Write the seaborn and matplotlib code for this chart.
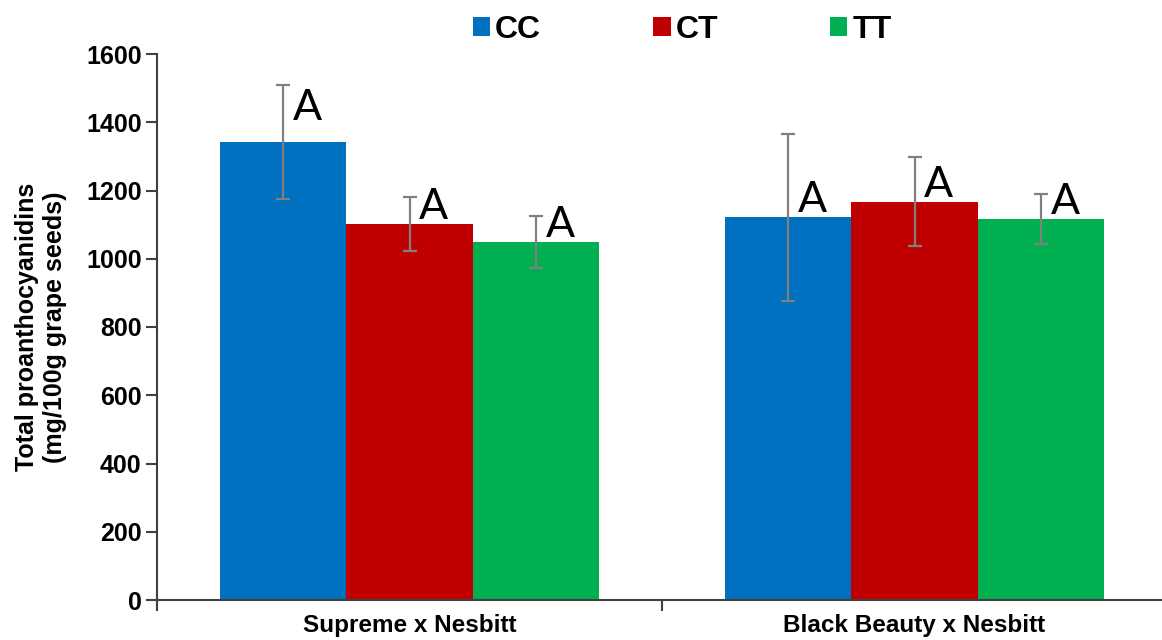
import matplotlib
matplotlib.use("Agg")
import matplotlib.pyplot as plt
from matplotlib.patches import Patch
import seaborn as sns
import pandas as pd
import numpy as np

crosses = ["Supreme x Nesbitt", "Black Beauty x Nesbitt"]
genotypes = ["CC", "CT", "TT"]
cc_values = [1342, 1122]
ct_values = [1102, 1167]
tt_values = [1049, 1117]
cc_err = [168, 245]
ct_err = [78, 130]
tt_err = [75, 73]
letters_cc = ["A", "A"]
letters_ct = ["A", "A"]
letters_tt = ["A", "A"]
colors = ["#0070C0", "#C00000", "#00B050"]
yticks = [0, 200, 400, 600, 800, 1000, 1200, 1400, 1600]

sns.set_style("white")
plt.rcParams["font.family"] = ["Liberation Sans", "DejaVu Sans"]
plt.rcParams["text.color"] = "black"
plt.rcParams["axes.labelcolor"] = "black"
plt.rcParams["xtick.labelcolor"] = "black"
plt.rcParams["ytick.labelcolor"] = "black"

rows = []
for g, vals, errs, lets in zip(genotypes, [cc_values, ct_values, tt_values],
                               [cc_err, ct_err, tt_err], [letters_cc, letters_ct, letters_tt]):
    for c, v, e, l in zip(crosses, vals, errs, lets):
        rows.append({"cross": c, "genotype": g, "value": v, "err": e, "letter": l})
df = pd.DataFrame(rows)

fig = plt.figure(figsize=(11.62, 6.40), dpi=100)
ax = fig.add_axes([157 / 1162, 1 - 600 / 640, 1010 / 1162, 546 / 640])

sns.barplot(data=df, x="cross", y="value", hue="genotype", order=crosses,
            hue_order=genotypes, palette=colors, width=0.75, gap=0,
            saturation=1, errorbar=None, legend=False, ax=ax, linewidth=0)

for cont, g in zip(ax.containers, genotypes):
    sub = df[df.genotype == g].set_index("cross").loc[crosses]
    xs = [b.get_x() + b.get_width() / 2 for b in cont]
    ax.errorbar(xs, sub["value"], yerr=sub["err"], fmt="none", ecolor="#808080",
                elinewidth=1.6, capsize=5, capthick=1.6, zorder=5)
    for x, v, e, l, c in zip(xs, sub["value"], sub["err"], sub["letter"], crosses):
        if g == "CC" and c == crosses[0]:
            ybase = v + 65
        else:
            ybase = v + 15
        ax.annotate(l, xy=(x, ybase), xytext=(7, 0), textcoords="offset points",
                    ha="left", va="baseline", fontsize=31, family=["Lato", "DejaVu Sans"],
                    color="black", zorder=6)

ax.set_ylim(0, 1600)
ax.set_xlim(-0.5, 1.5)
ax.set_yticks(yticks)
ax.set_yticklabels([str(t) for t in yticks], fontsize=18, fontweight="bold")
ax.set_xticks([-0.5, 0.5, 1.5])
ax.set_xticks([0, 1], minor=True)
ax.set_xticklabels(["", "", ""])
ax.set_xticklabels(crosses, minor=True, fontsize=17.5, fontweight="bold")
ax.tick_params(axis="x", which="minor", bottom=False, length=0, pad=10)
ax.tick_params(axis="x", which="major", bottom=True, direction="out", length=8,
               width=1.5, color="#404040")
ax.tick_params(axis="y", left=True, direction="out", length=8, width=1.5,
               color="#404040", pad=3)
ax.set_xlabel("")
ax.set_ylabel("Total proanthocyanidins\n(mg/100g grape seeds)", fontsize=18,
              fontweight="bold", labelpad=14, linespacing=1.2, color="black")
for s in ["top", "right"]:
    ax.spines[s].set_visible(False)
for s in ["left", "bottom"]:
    ax.spines[s].set_color("#404040")
    ax.spines[s].set_linewidth(1.5)

handles = [Patch(facecolor=c, edgecolor="none") for c in colors]
leg = fig.legend(handles, genotypes, loc="center", bbox_to_anchor=(0.587, 0.953), ncol=3,
                 frameon=False, prop={"weight": "bold", "size": 23}, handlelength=0.55,
                 handleheight=0.55, handletextpad=0.15, columnspacing=3.5)
for t in leg.get_texts():
    t.set_color("black")

fig.savefig("out.png", dpi=100)
